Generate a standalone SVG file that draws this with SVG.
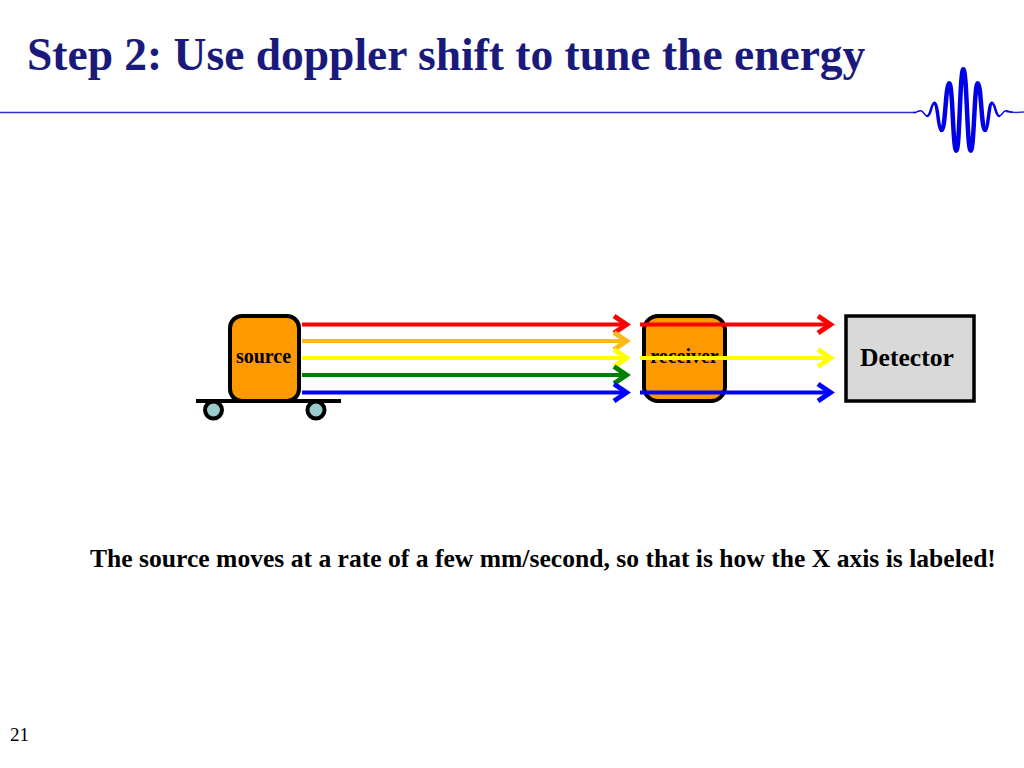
<svg xmlns="http://www.w3.org/2000/svg" width="1024" height="768" viewBox="0 0 1024 768">
<style>
text{font-family:"Liberation Serif","Times New Roman",serif;font-weight:bold;fill:#000}
.box{fill:#ff9900;stroke:#000;stroke-width:4}
.wheel{fill:#99cccc;stroke:#000;stroke-width:4}
.w{fill:none;stroke:#0000e6;stroke-linecap:round}
.ar{fill:none;stroke-width:4}
.hd{fill:none;stroke-width:5}
</style>
<rect width="1024" height="768" fill="#fff"/>
<g id="title"><text x="27" y="70" font-size="45.500" style="fill:#1a1a7c">Step 2: Use doppler shift to tune the energy</text></g>
<g id="header-rule">
<path d="M0 112.500H916" fill="none" stroke="#2e2ec8" stroke-width="1.500"/>
<path d="M1006 111.500Q1014 113 1024 112" fill="none" stroke="#2e2ec8" stroke-width="1.500"/>
<path class="w" stroke-width="1.500" d="M914 112.500C917 112.500 918 110.700 920.700 110.700C924 110.700 924 116 927.300 116"/>
<path class="w" stroke-width="2.500" d="M927.300 116C931 116 931 103.300 934.300 103.300"/>
<path class="w" stroke-width="3.500" d="M934.300 103.300C938 103.300 938 130 941.700 130"/>
<path class="w" stroke-width="4.500" d="M941.700 130C945.500 130 945.500 83.300 949.300 83.300C952.800 83.300 952.800 150.700 956.300 150.700C959.800 150.700 959.800 69.300 963.300 69.300C967 69.300 967 150.700 970.700 150.700C974.200 150.700 974.200 83.300 977.700 83.300C981.300 83.300 981.300 130 985 130"/>
<path class="w" stroke-width="3.500" d="M985 130C988.500 130 988.500 103.300 992 103.300"/>
<path class="w" stroke-width="2.500" d="M992 103.300C995.500 103.300 995.500 116 999 116"/>
<path class="w" stroke-width="1.500" d="M999 116C1002.500 116 1002.500 110.700 1006 110.700C1009 110.700 1009 112 1012 112"/>
</g>
<g id="source">
<rect class="box" x="230" y="316" width="69" height="85" rx="12"/>
<text x="263.500" y="363" font-size="20" text-anchor="middle">source</text>
</g>
<g id="cart">
<path d="M196 401H341" stroke="#000" stroke-width="4" fill="none"/>
<circle class="wheel" cx="213.500" cy="410" r="8.500"/>
<circle class="wheel" cx="316" cy="410" r="8.500"/>
</g>
<g id="receiver">
<rect class="box" x="644" y="316" width="81" height="85" rx="14"/>
<text x="684.500" y="363" font-size="20" text-anchor="middle">receiver</text>
</g>
<g id="detector">
<rect x="846" y="316" width="128" height="85" fill="#d9d9d9" stroke="#000" stroke-width="3.500"/>
<text x="907" y="366" font-size="25.600" text-anchor="middle">Detector</text>
</g>
<g id="connectors">
<g stroke="#ff0000"><path class="ar" d="M302 324.500H627"/><path class="hd" d="M614 316L626.500 324.500L614 333"/></g>
<g stroke="#ffb81a"><path class="ar" d="M302 341H627"/><path class="hd" d="M614 332.500L626.500 341L614 349.500"/></g>
<g stroke="#ffff00"><path class="ar" d="M302 358H627"/><path class="hd" d="M614 349.500L626.500 358L614 366.500"/></g>
<g stroke="#008000"><path class="ar" d="M302 375H627"/><path class="hd" d="M614 366.500L626.500 375L614 383.500"/></g>
<g stroke="#0000ff"><path class="ar" d="M302 392.500H627"/><path class="hd" d="M614 384L626.500 392.500L614 401"/></g>
<g stroke="#ff0000"><path class="ar" d="M640 324.500H831"/><path class="hd" d="M818 316L830.500 324.500L818 333"/></g>
<g stroke="#ffff00"><path class="ar" d="M640 358H831"/><path class="hd" d="M818 349.500L830.500 358L818 366.500"/></g>
<g stroke="#0000ff"><path class="ar" d="M640 392.500H831"/><path class="hd" d="M818 384L830.500 392.500L818 401"/></g>
</g>
<g id="caption"><text x="90" y="567" font-size="25.600">The source moves at a rate of a few mm/second, so that is how the X axis is labeled!</text></g>
<g id="page-number"><text x="10" y="741" font-size="19" style="font-weight:normal">21</text></g>
</svg>
